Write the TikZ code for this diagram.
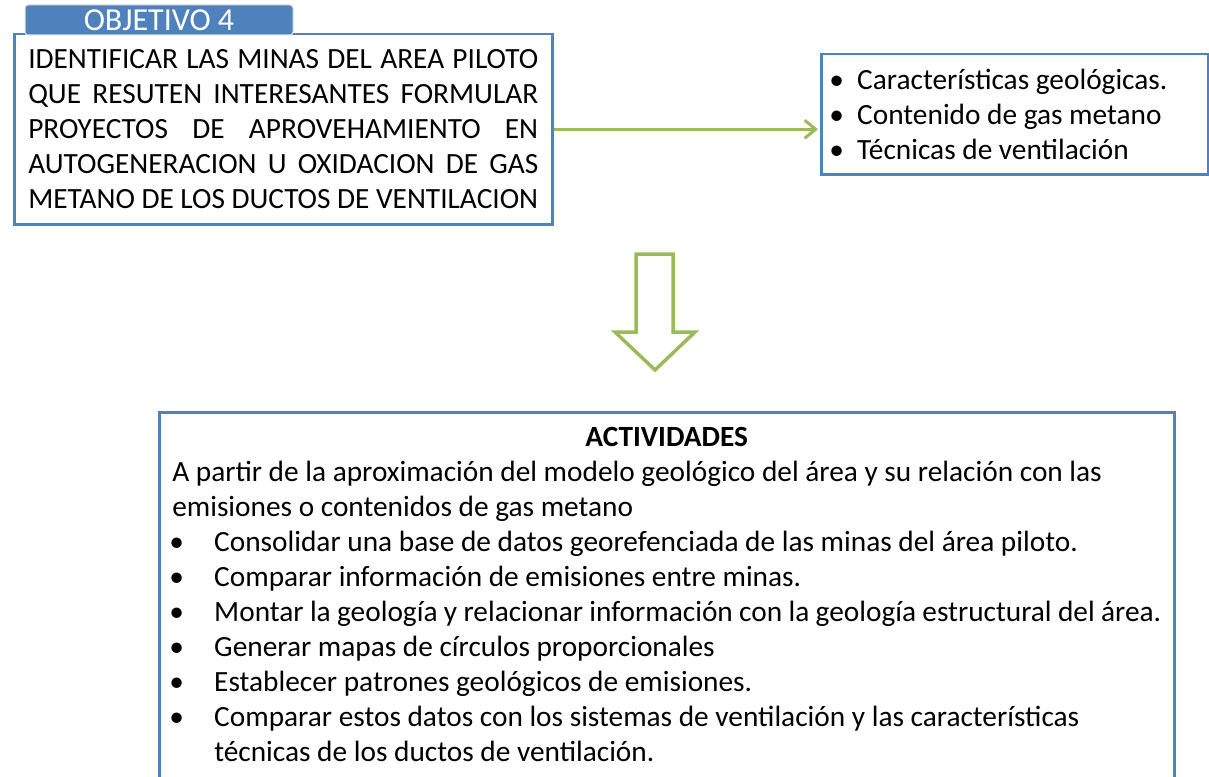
\documentclass[tikz,border=0pt]{standalone}
\usepackage{fontspec}
\setmainfont{Carlito}
\usetikzlibrary{arrows.meta}
\usetikzlibrary{positioning}
\definecolor{boxblue}{HTML}{4F81BD}
\definecolor{arrowgreen}{HTML}{9BBB59}
\newcommand{\fullline}[1]{\makebox[\linewidth][s]{\spaceskip=0pt\relax #1}}
\newcommand{\itm}{\makebox[42pt][l]{\hspace*{-3pt}\textbullet}}
\newcommand{\sitm}{\makebox[29pt][l]{\hspace*{1pt}\textbullet}}

\begin{document}
\begin{tikzpicture}[x=1pt, y=-1pt,
		every node/.style={font=\fontsize{29.33}{35}\selectfont},
		box/.style={draw=boxblue, line width=2.5pt, fill=white, align=left, inner sep=0pt},
		tab/.style={fill=boxblue, draw=gray!25, line width=1pt, text=white, rounded corners=3pt,
			minimum width=268pt, minimum height=30pt, inner sep=0pt, font=\fontsize{32}{35}\selectfont},
		link/.style={draw=arrowgreen, line width=3pt, -{Straight Barb[length=11pt,width=18pt]}},
		bigarrow/.style={draw=arrowgreen, line width=3.5pt, fill=white, line join=miter}]
	
	\useasboundingbox (0,0) rectangle (1209,776);
	
	% node positions
	\node[box, anchor=north west, text width=510pt, inner xsep=14pt, minimum height=190pt] (objetivo) at (13,33)
		{\spaceskip=0pt
		 \fullline{IDENTIFICAR LAS MINAS DEL AREA PILOTO}\\
		 \fullline{QUE RESUTEN INTERESANTES FORMULAR}\\
		 \fullline{PROYECTOS DE APROVEHAMIENTO EN}\\
		 \fullline{AUTOGENERACION U OXIDACION DE GAS}\\
		 METANO DE LOS DUCTOS DE VENTILACION};
	\node[tab] (titulo) at (159,20) {OBJETIVO 4};
	\node[box, anchor=north west, text width=373pt, inner xsep=7pt, minimum height=120pt] (aspectos) at (820,53)
		{\spaceskip=0pt
		 \sitm Características geológicas.\\
		 \sitm Contenido de gas metano\\
		 \sitm Técnicas de ventilación};
	\node[box, anchor=north west, text width=989pt, inner xsep=13pt, inner ysep=15.5pt] (actividades) at (158,411)
		{\spaceskip=0pt
		 \makebox[\linewidth]{\bfseries ACTIVIDADES}\\
		 A partir de la aproximación del modelo geológico del área y su relación con las\\
		 emisiones o contenidos de gas metano\\
		 \itm Consolidar una base de datos georefenciada de las minas del área piloto.\\
		 \itm Comparar información de emisiones entre minas.\\
		 \itm Montar la geología y relacionar información con la geología estructural del área.\\
		 \itm Generar mapas de círculos proporcionales\\
		 \itm Establecer patrones geológicos de emisiones.\\
		 \itm Comparar estos datos con los sistemas de ventilación y las características\\
		 \hspace*{42pt}técnicas de los ductos de ventilación.\rule[-30pt]{0pt}{30pt}};
	
	% arrows
	\draw[link, shorten >=2pt] (objetivo.east) -- (objetivo.east -| aspectos.west);
	\draw[bigarrow] (636,254) -- (673,254) -- (673,332) -- (695,332) -- (655,370)
		-- (615,332) -- (636,332) -- cycle;
	
\end{tikzpicture}
\end{document}
